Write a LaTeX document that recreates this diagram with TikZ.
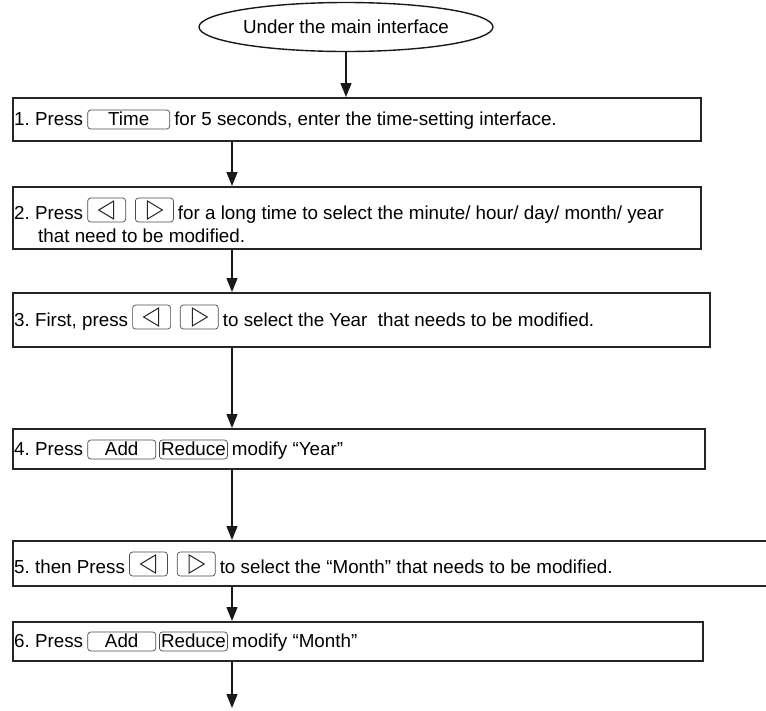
\documentclass[tikz,border=0pt]{standalone}
\usepackage{fontspec}
\setmainfont{Liberation Sans}
\usetikzlibrary{shapes.geometric,arrows.meta,calc}
\newcommand\dgfs{\fontsize{18.8}{22}\selectfont\frenchspacing}
\begin{document}
\begin{tikzpicture}[x=1pt,y=-1pt,
  box/.style={draw=black!85, line width=1.6, inner sep=0, anchor=north west},
  txt/.style={inner sep=0, anchor=base west, font=\dgfs},
  btn/.style={draw=black!70, line width=0.7, rounded corners=3, inner sep=0, anchor=base west, text height=15, text depth=4, font=\dgfs},
  abtn/.style={draw=black!70, line width=0.7, rounded corners=3, inner sep=0, anchor=base west, text height=21, text depth=3, minimum width=38},
  tri/.style={draw=black!85, line width=1.0, line join=miter},
  arw/.style={draw=black!90, line width=1.4, -{Triangle[length=14,width=11]}},
]
\newcommand\lrbtn[2]{%
  \node[abtn] (#1l) at ($(#2)+(4,0)$) {};
  \node[abtn] (#1r) at ($(#1l.base east)+(9,0)$) {};
  \draw[tri] ($(#1l.center)+(-8,0)$) -- ++(15,-9) -- ++(0,18) -- cycle;
  \draw[tri] ($(#1r.center)+(8,0)$) -- ++(-15,-9) -- ++(0,18) -- cycle;}
\useasboundingbox (0,0) rectangle (766,710);
\coordinate (ax) at (232,0);
\coordinate (end) at (232,708);
% start
\node[draw=black!90, ellipse, line width=1.4, minimum width=252, minimum height=49, inner sep=1, font=\dgfs] (e) at (346,27) {Under the main interface};
% boxes
\node[box, minimum width=688, minimum height=43] (b1) at (12,97) {};
\node[box, minimum width=688, minimum height=62] (b2) at (12,186) {};
\node[box, minimum width=697, minimum height=54] (b3) at (12,292) {};
\node[box, minimum width=692, minimum height=40] (b4) at (12,428) {};
\node[box, minimum width=780, minimum height=45] (b5) at (12,540) {};
\node[box, minimum width=690, minimum height=39] (b6) at (12,621) {};
% box 1
\node[txt] (t1a) at (14,125) {1. Press};
\node[btn, minimum width=82] (k1) at ($(t1a.base east)+(4,0)$) {Time};
\node[txt] (t1b) at ($(k1.base east)+(4,0)$) {for 5 seconds, enter the time-setting interface.};
% box 2
\node[txt] (t2a) at (14,219) {2. Press};
\lrbtn{k2}{t2a.base east}
\node[txt] (t2b) at ($(k2r.base east)+(4,0)$) {for a long time to select the minute/ hour/ day/ month/ year};
\node[txt] (t2c) at (38,242) {that need to be modified.};
% box 3
\node[txt] (t3a) at (14,326) {3. First, press};
\lrbtn{k3}{t3a.base east}
\node[txt] (t3b) at ($(k3r.base east)+(4,0)$) {to select the Year\ \ that needs to be modified.};
% box 4
\node[txt] (t4a) at (14,455) {4. Press};
\node[btn, minimum width=68] (k4a) at ($(t4a.base east)+(4,0)$) {Add};
\node[btn, minimum width=68] (k4b) at ($(k4a.base east)+(3,0)$) {Reduce};
\node[txt] (t4b) at ($(k4b.base east)+(4,0)$) {modify “Year”};
% box 5
\node[txt] (t5a) at (14,573) {5. then Press};
\lrbtn{k5}{t5a.base east}
\node[txt] (t5b) at ($(k5r.base east)+(4,0)$) {to select the “Month” that needs to be modified.};
% box 6
\node[txt] (t6a) at (14,647) {6. Press};
\node[btn, minimum width=68] (k6a) at ($(t6a.base east)+(4,0)$) {Add};
\node[btn, minimum width=68] (k6b) at ($(k6a.base east)+(3,0)$) {Reduce};
\node[txt] (t6b) at ($(k6b.base east)+(4,0)$) {modify “Month”};
% arrows
\draw[arw] (e.south) -- (e.south |- b1.north);
\draw[arw] (b1.south -| ax) -- (b2.north -| ax);
\draw[arw] (b2.south -| ax) -- (b3.north -| ax);
\draw[arw] (b3.south -| ax) -- (b4.north -| ax);
\draw[arw] (b4.south -| ax) -- (b5.north -| ax);
\draw[arw] (b5.south -| ax) -- (b6.north -| ax);
\draw[arw] (b6.south -| ax) -- (end);
\end{tikzpicture}
\end{document}
